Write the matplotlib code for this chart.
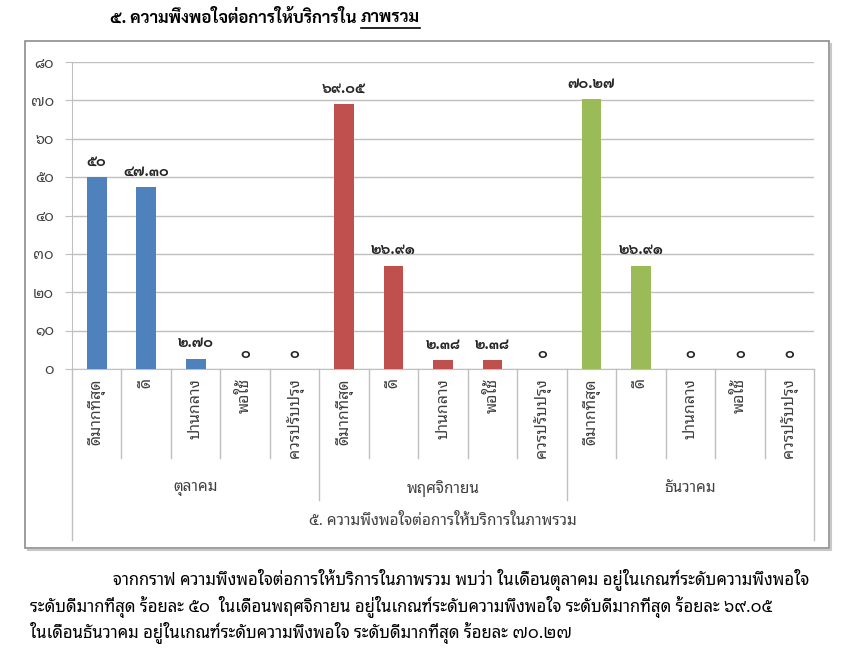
import matplotlib
matplotlib.use("Agg")
import numpy as np
import matplotlib.pyplot as plt
from matplotlib.patches import Rectangle
from matplotlib.transforms import blended_transform_factory

plt.rcParams['font.family'] = ['Noto Sans Thai Looped', 'IBM Plex Sans Thai Looped', 'Sarabun', 'Anuphan', 'DejaVu Sans']
bold_family = ['Sarabun', 'IBM Plex Sans Thai Looped', 'Noto Sans Thai Looped', 'DejaVu Sans']

title_main = "๕. ความพึงพอใจต่อการให้บริการใน "
title_under = "ภาพรวม"
axis_title = "๕. ความพึงพอใจต่อการให้บริการในภาพรวม"
months = ["ตุลาคม", "พฤศจิกายน", "ธันวาคม"]
levels = ["ดีมากที่สุด", "ดี", "ปานกลาง", "พอใช้", "ควรปรับปรุง"]
oct_vals = [50, 47.30, 2.70, 0, 0]
nov_vals = [69.05, 26.91, 2.38, 2.38, 0]
dec_vals = [70.27, 26.91, 0, 0, 0]
colors = ["#4F81BD", "#C0504D", "#9BBB59"]
yticks = [0, 10, 20, 30, 40, 50, 60, 70, 80]
paragraph = [
    "จากกราฟ ความพึงพอใจต่อการให้บริการในภาพรวม พบว่า ในเดือนตุลาคม อยู่ในเกณฑ์ระดับความพึงพอใจ",
    "ระดับดีมากที่สุด ร้อยละ ๕๐  ในเดือนพฤศจิกายน อยู่ในเกณฑ์ระดับความพึงพอใจ ระดับดีมากที่สุด ร้อยละ ๖๙.๐๕",
    "ในเดือนธันวาคม อยู่ในเกณฑ์ระดับความพึงพอใจ ระดับดีมากที่สุด ร้อยละ ๗๐.๒๗",
]

THAI = str.maketrans("0123456789", "๐๑๒๓๔๕๖๗๘๙")


def thai_num(v):
    s = f"{v:g}" if float(v).is_integer() else f"{v:.2f}"
    return s.translate(THAI)


W, H = 850, 660
fig = plt.figure(figsize=(8.5, 6.6), dpi=100)

# chart frame, shadow on right and bottom only
x0, x1, y0, y1 = 25, 829, 41, 548
fig.add_artist(plt.Line2D([(x0 + 3) / W, (x1 + 2) / W, (x1 + 2) / W],
                          [1 - (y1 + 2) / H, 1 - (y1 + 2) / H, 1 - (y0 + 3) / H],
                          transform=fig.transFigure, color="#C8C8C8", lw=1.5))
fig.patches.append(Rectangle((x0 / W, 1 - y1 / H), (x1 - x0) / W, (y1 - y0) / H,
                             transform=fig.transFigure, fill=False,
                             edgecolor="#8C8C8C", lw=1.2, zorder=-1))

ax = fig.add_axes([72 / W, 1 - 369 / H, (814 - 72) / W, (369 - 62) / H])

grid = "#BFBFBF"
text_c = "#404040"
n = len(levels)
for g, vals in enumerate([oct_vals, nov_vals, dec_vals]):
    x = np.arange(n) + g * n
    ax.bar(x, vals, width=0.4, color=colors[g], zorder=3)
    for xi, v in zip(x, vals):
        ax.annotate(thai_num(v), (xi, v), xytext=(0, 6), textcoords="offset points",
                    ha="center", va="bottom", fontsize=10.5, fontweight="bold",
                    family=bold_family, color="#262626")

ax.set_xlim(-0.5, 3 * n - 0.5)
ax.set_ylim(0, 80)
ax.set_yticks(yticks)
ax.set_yticklabels([thai_num(t) for t in yticks], fontsize=10.5, color=text_c)
ax.yaxis.grid(True, color=grid, lw=1)
ax.set_axisbelow(True)
ax.set_xticks([])
for s in ["top", "right"]:
    ax.spines[s].set_visible(False)
ax.spines["left"].set_color(grid)
ax.spines["bottom"].set_color(grid)
ax.tick_params(axis="y", length=5, color=grid, pad=8)

tr = blended_transform_factory(ax.transData, ax.transAxes)
for b in range(3 * n + 1):
    xb = b - 0.5
    if b in (0, 3 * n):
        y_end = -0.557
    elif b % n == 0:
        y_end = -0.427
    else:
        y_end = -0.29
    ax.plot([xb, xb], [0, y_end], transform=tr, color=grid, lw=1, clip_on=False)

for g in range(3):
    for i, lab in enumerate(levels):
        ax.text(g * n + i, -0.03, lab, transform=tr, rotation=90, ha="center",
                va="top", fontsize=11.5, color=text_c)
    ax.text(g * n + (n - 1) / 2, -0.388, months[g], transform=tr, ha="center",
            va="center", fontsize=11, color=text_c)
ax.text(0.5, -0.498, axis_title, transform=ax.transAxes, ha="center", va="center",
        fontsize=11, color=text_c)

# title with underlined last word
t1 = fig.text(110 / W, 1 - 18 / H, title_main, ha="left", va="center",
              fontsize=12, fontweight="bold", family=bold_family, color="black")
fig.canvas.draw()
r = fig.canvas.get_renderer()
bb = t1.get_window_extent(r)
t2 = fig.text(bb.x1 / W, 1 - 18 / H, title_under, ha="left", va="center",
              fontsize=12, fontweight="bold", family=bold_family, color="black")
bb2 = t2.get_window_extent(r)
fig.add_artist(plt.Line2D([bb2.x0 / W, bb2.x1 / W], [(H - 28) / H, (H - 28) / H],
                          transform=fig.transFigure, color="black", lw=1.2))

for k, (line, y) in enumerate(zip(paragraph, [580, 607, 633])):
    fig.text((113 if k == 0 else 30) / W, 1 - y / H, line, ha="left", va="center",
             fontsize=12, color="black")

fig.savefig("out.png", dpi=100)
